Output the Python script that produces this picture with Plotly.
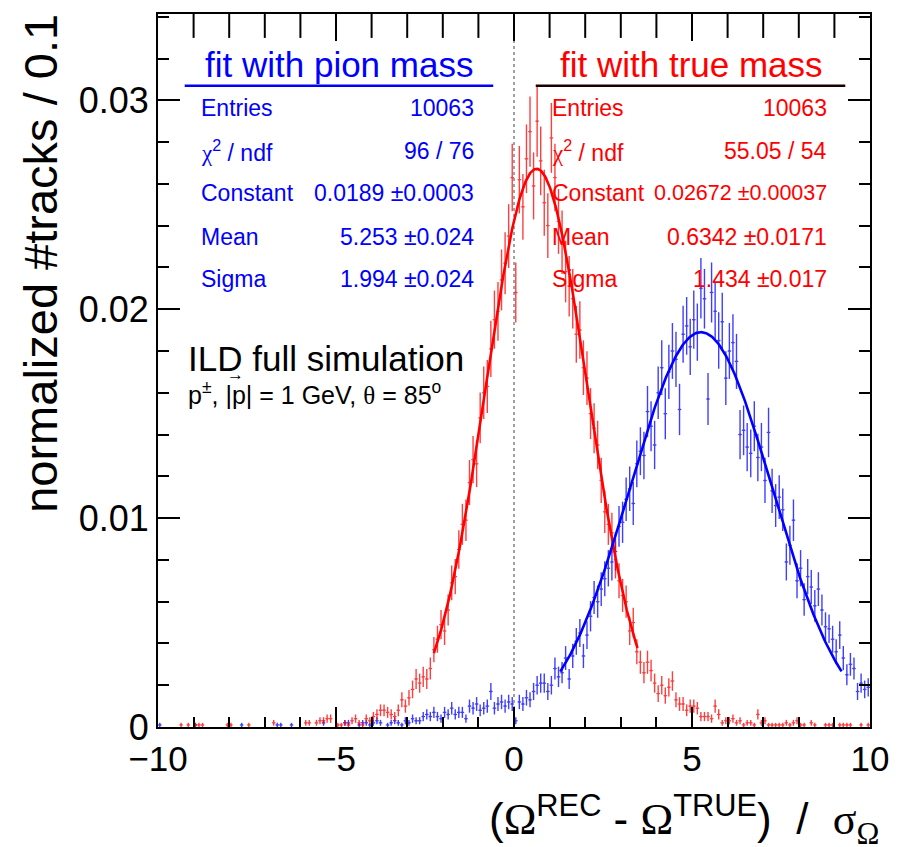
import numpy as np
import plotly.graph_objects as go

# ---------------- data ----------------
bin_width = 0.1
x_centers = [round(-9.95 + 0.1 * i, 2) for i in range(200)]

# "fit with true mass" (red) bin contents, -9.95 ... 9.95
red_values = [
    # -9.95 .. -9.05
    0, 0, 0, 0, 0, 0, 0.0001, 0, 0.0001, 0,
    # -8.95 .. -8.05
    0.0001, 0.0001, 0.0001, 0, 0, 0, 0, 0, 0, 0.0001,
    # -7.95 .. -7.05
    0.0001, 0, 0, 0, 0, 0.0001, 0, 0, 0, 0,
    # -6.95 .. -6.05
    0, 0, 0.0002, 0, 0, 0, 0, 0, 0, 0,
    # -5.95 .. -5.05
    0, 0.0002, 0.0002, 0, 0.0002, 0.0003, 0.0003, 0.0004, 0.0004, 0,
    # -4.95 .. -4.05
    0.0001, 0.0001, 0.0002, 0.0001, 0.0003, 0.0004, 0.0002, 0.0001, 0.0004, 0.0003,
    # -3.95 .. -3.05
    0.0005, 0.0006, 0.0008, 0.0008, 0.0007, 0.0006, 0.0005, 0.0008, 0.0013, 0.0010,
    # -2.95 .. -2.05
    0.0014, 0.0018, 0.0023, 0.0021, 0.0024, 0.0023, 0.0028, 0.0037, 0.0042, 0.0049,
    # -1.95 .. -1.05
    0.0046, 0.0056, 0.0069, 0.0072, 0.0085, 0.0097, 0.0099, 0.0117, 0.0128, 0.0126,
    # -0.95 .. -0.05
    0.0148, 0.0160, 0.0163, 0.0181, 0.0195, 0.0199, 0.0214, 0.0222, 0.0235, 0.0263,
    # 0.05 .. 0.95
    0.0208, 0.0262, 0.0249, 0.0272, 0.0285, 0.0259, 0.0290, 0.0271, 0.0251, 0.0240,
    # 1.05 .. 1.95
    0.0282, 0.0263, 0.0242, 0.0232, 0.0218, 0.0211, 0.0205, 0.0188, 0.0190, 0.0172,
    # 2.05 .. 2.95
    0.0167, 0.0150, 0.0143, 0.0135, 0.0118, 0.0103, 0.0097, 0.0093, 0.0080, 0.0070,
    # 3.05 .. 3.95
    0.0063, 0.0060, 0.0046, 0.0050, 0.0036, 0.0031, 0.0026, 0.0031, 0.0027, 0.0021,
    # 4.05 .. 4.95
    0.0016, 0.0020, 0.0015, 0.0019, 0.0022, 0.0013, 0.0011, 0.0011, 0.0008, 0.0010,
    # 5.05 .. 5.95
    0.0010, 0.0009, 0.0005, 0.0005, 0.0005, 0.0004, 0.0010, 0.0006, 0.0002, 0.0003,
    # 6.05 .. 6.95
    0.0003, 0.0004, 0.0002, 0.0003, 0.0001, 0.0002, 0.0002, 0.0001, 0.0006, 0.0002,
    # 7.05 .. 7.95
    0.0003, 0.0001, 0.0001, 0.0001, 0.0001, 0.0001, 0.0002, 0.0001, 0.0002, 0.0003,
    # 8.05 .. 8.95
    0.0001, 0.0001, 0, 0.0002, 0.0001, 0, 0, 0.0001, 0.0001, 0.0001,
    # 9.05 .. 9.95
    0, 0.0001, 0.0001, 0.0001, 0.0001, 0, 0, 0.0001, 0, 0.0001,
]

# "fit with pion mass" (blue) bin contents, -9.95 ... 9.95
blue_values = [
    # -9.95 .. -9.05
    0.0001, 0, 0, 0, 0, 0, 0, 0, 0, 0,
    # -8.95 .. -8.05
    0.0001, 0, 0, 0, 0, 0, 0, 0, 0, 0,
    # -7.95 .. -7.05
    0, 0, 0, 0.0001, 0, 0, 0, 0, 0, 0,
    # -6.95 .. -6.05
    0, 0, 0, 0.0001, 0.0001, 0, 0, 0.0001, 0, 0,
    # -5.95 .. -5.05
    0, 0, 0, 0, 0, 0, 0.0002, 0, 0, 0,
    # -4.95 .. -4.05
    0, 0, 0.0002, 0.0002, 0, 0, 0.0001, 0.0002, 0.0002, 0.0001,
    # -3.95 .. -3.05
    0.0002, 0.0003, 0.0002, 0, 0.0001, 0.0002, 0.0003, 0.0002, 0.0001, 0.0003,
    # -2.95 .. -2.05
    0.0002, 0.0004, 0.0003, 0.0003, 0.0005, 0.0006, 0.0005, 0.0007, 0.0005, 0.0004,
    # -1.95 .. -1.05
    0.0007, 0.0006, 0.0009, 0.0006, 0.0007, 0.0007, 0.0004, 0.0010, 0.0009, 0.0011,
    # -0.95 .. -0.05
    0.0008, 0.0009, 0.0010, 0.0017, 0.0009, 0.0011, 0.0012, 0.0010, 0.0012, 0.0011,
    # 0.05 .. 0.95
    0.0003, 0.0012, 0.0011, 0.0014, 0.0013, 0.0017, 0.0020, 0.0021, 0.0021, 0.0017,
    # 1.05 .. 1.95
    0.0020, 0.0028, 0.0024, 0.0026, 0.0033, 0.0023, 0.0034, 0.0041, 0.0045, 0.0034,
    # 2.05 .. 2.95
    0.0044, 0.0053, 0.0062, 0.0060, 0.0066, 0.0071, 0.0076, 0.0079, 0.0084, 0.0096,
    # 3.05 .. 3.95
    0.0098, 0.0109, 0.0114, 0.0107, 0.0126, 0.0132, 0.0130, 0.0151, 0.0144, 0.0135,
    # 4.05 .. 4.95
    0.0160, 0.0172, 0.0150, 0.0170, 0.0180, 0.0176, 0.0152, 0.0188, 0.0192, 0.0182,
    # 5.05 .. 5.95
    0.0195, 0.0189, 0.0210, 0.0205, 0.0157, 0.0208, 0.0199, 0.0185, 0.0194, 0.0167,
    # 6.05 .. 6.95
    0.0180, 0.0184, 0.0175, 0.0140, 0.0142, 0.0134, 0.0131, 0.0144, 0.0129, 0.0134,
    # 7.05 .. 7.95
    0.0118, 0.0141, 0.0113, 0.0106, 0.0110, 0.0104, 0.0079, 0.0087, 0.0099, 0.0070,
    # 8.05 .. 8.95
    0.0076, 0.0061, 0.0072, 0.0067, 0.0058, 0.0066, 0.0056, 0.0048, 0.0047, 0.0042,
    # 9.05 .. 9.95
    0.0036, 0.0044, 0.0033, 0.0025, 0.0030, 0.0028, 0.0017, 0.0021, 0.0018, 0.0019,
]

entries = 10063

# fit results shown in the stat boxes
red_fit = dict(constant=0.02672, mean=0.6342, sigma=1.434, xmin=-2.25, xmax=3.47)
blue_fit = dict(constant=0.0189, mean=5.253, sigma=1.994, xmin=1.3, xmax=9.2)

blue_stats = [("Entries", "10063"), ("χ<sup>2</sup> / ndf", "96 / 76"),
              ("Constant", "0.0189 ±0.0003"), ("Mean", "5.253 ±0.024"),
              ("Sigma", "1.994 ±0.024")]
red_stats = [("Entries", "10063"), ("χ<sup>2</sup> / ndf", "55.05 / 54"),
             ("Constant", "0.02672 ±0.00037"), ("Mean", "0.6342 ±0.0171"),
             ("Sigma", "1.434 ±0.017")]

x_tick_vals = [-10, -5, 0, 5, 10]
x_tick_text = ["\u221210", "\u22125", "0", "5", "10"]
x_minor_vals = list(range(-9, 10))
y_tick_vals = [0, 0.01, 0.02, 0.03]
y_tick_text = ["0", "0.01", "0.02", "0.03"]

# ---------------- layout geometry ----------------
W, H = 901, 847
L, R, T, B = 158, 23, 12, 120
X0, X1 = 158, 878
Y0, Y1 = 727, 12
Y_MAX = 0.03413
PX_PER_Y = (Y0 - Y1) / Y_MAX

def px(xp):
    return (xp - X0) / (X1 - X0)

def py(yp):
    return (Y0 - yp) / (Y0 - Y1)

FONT = "Liberation Sans, Arial, Helvetica, sans-serif"
SERIF = "Liberation Serif, Times New Roman, serif"
RED = "#ff0000"
BLUE = "#0000ff"

fig = go.Figure()

def add_hist(values, color, name):
    xs = [x for x, v in zip(x_centers, values) if v > 0]
    vs = [v for v in values if v > 0]
    errs = [float(np.sqrt(v / entries)) for v in vs]
    fig.add_trace(go.Scatter(
        x=xs, y=vs, mode="markers", name=name,
        marker=dict(color=color, size=2),
        error_y=dict(type="data", array=errs, visible=True, color=color,
                     thickness=1.4, width=0),
        error_x=dict(type="data", array=[bin_width / 2] * len(xs), visible=True,
                     color=color, thickness=1.2, width=0),
        opacity=0.75, showlegend=False, hoverinfo="skip"))

def add_fit(fit, color):
    xf = np.linspace(fit["xmin"], fit["xmax"], 300)
    yf = fit["constant"] * np.exp(-0.5 * ((xf - fit["mean"]) / fit["sigma"]) ** 2)
    fig.add_trace(go.Scatter(x=xf, y=yf, mode="lines",
                             line=dict(color=color, width=2.6),
                             showlegend=False, hoverinfo="skip"))

add_hist(blue_values, BLUE, "pion mass")
add_hist(red_values, RED, "true mass")
add_fit(red_fit, RED)
add_fit(blue_fit, BLUE)

# dotted line at zero
fig.add_shape(type="line", xref="x", yref="paper", x0=0, x1=0, y0=0, y1=1,
              line=dict(color="#444444", width=1, dash="dot"), layer="below")

# top-axis ticks (longer than the bottom ones, as in the original frame)
for v in x_minor_vals + [-5, 0, 5]:
    length_px = 27 if v in x_tick_vals else 24
    fig.add_shape(type="line", xref="x", yref="y", x0=v, x1=v,
                  y0=Y_MAX, y1=Y_MAX - length_px / PX_PER_Y,
                  line=dict(color="black", width=2))

annotations = []

def text(xp, yp, s, size, color, xanchor="left", yanchor="middle", family=FONT, **kw):
    annotations.append(dict(x=px(xp), y=py(yp), xref="paper", yref="paper",
                            text=s, showarrow=False, xanchor=xanchor,
                            yanchor=yanchor,
                            font=dict(family=family, size=size, color=color), **kw))

# stat box headers
text(341, 63, "fit with pion mass", 35, BLUE, xanchor="center")
text(697, 63, "fit with true mass", 35, RED, xanchor="center")
fig.add_shape(type="line", xref="paper", yref="paper", x0=px(185), x1=px(497),
              y0=py(84), y1=py(84), line=dict(color=BLUE, width=2.5))
fig.add_shape(type="line", xref="paper", yref="paper", x0=px(540), x1=px(853),
              y0=py(84), y1=py(84), line=dict(color="#1a0000", width=2.5))

CHI = "<span style='font-family:" + SERIF + "'>χ</span>"
row_y = [106, 149, 192, 236, 278]
for (lab, val), yy in zip(blue_stats, row_y):
    text(199, yy, lab.replace("χ", CHI), 23, BLUE, xanchor="left")
    text(480, yy, val, 23, BLUE, xanchor="right")
for (lab, val), yy in zip(red_stats, row_y):
    text(554, yy, lab.replace("χ", CHI), 23, RED, xanchor="left")
    text(837, yy, val, 21.5 if lab == "Constant" else 23, RED, xanchor="right")

# ILD label
text(186, 357, "ILD full simulation", 35, "black")
text(186, 392, "p<sup>±</sup>, |p| = 1 GeV, <span style='font-family:" + SERIF +
     "'>θ</span> = 85<sup>o</sup>", 25, "black")
text(236, 374, "\u2192", 17, "black", xanchor="center")

# axis titles
NB = "\u00a0"
annotations.append(dict(
    x=px(889), y=py(853), xref="paper", yref="paper", xanchor="right", yanchor="bottom",
    showarrow=False,
    text="(<span style='font-family:" + SERIF + "'>Ω</span>"
         "<sup>REC</sup>" + NB + "-" + NB +
         "<span style='font-family:" + SERIF + "'>Ω</span>"
         "<sup>TRUE</sup>)" + NB + NB + "/" + NB + NB +
         "<span style='font-family:" + SERIF + "'>σ</span>"
         "<sub><span style='font-family:" + SERIF + "'>Ω</span></sub>",
    font=dict(family=FONT, size=44, color="black")))
annotations.append(dict(
    x=-(158 - 39) / 720, y=py(10), xref="paper", yref="paper",
    xanchor="center", yanchor="top", textangle=-90, showarrow=False,
    text="normalized #tracks / 0.1",
    font=dict(family=FONT, size=47, color="black")))

fig.update_layout(
    width=W, height=H,
    margin=dict(l=L, r=R, t=T, b=B, pad=0),
    paper_bgcolor="white", plot_bgcolor="white",
    annotations=annotations,
    xaxis=dict(range=[-10, 10], tickvals=x_tick_vals, ticktext=x_tick_text,
               ticks="inside", ticklen=20, tickwidth=2, tickcolor="black",
               showline=True, linewidth=2, linecolor="black", mirror=True,
               showgrid=False, zeroline=False,
               tickfont=dict(family=FONT, size=35, color="black"),
               minor=dict(tickvals=x_minor_vals, ticks="inside", ticklen=10, tickwidth=2,
                          tickcolor="black", showgrid=False)),
    yaxis=dict(range=[0, Y_MAX], tickvals=y_tick_vals, ticktext=y_tick_text,
               ticks="inside", ticklen=22, tickwidth=2, tickcolor="black",
               showline=True, linewidth=2, linecolor="black", mirror="ticks",
               showgrid=False, zeroline=False,
               tickfont=dict(family=FONT, size=36, color="black"),
               minor=dict(dtick=0.002, ticks="inside", ticklen=11, tickwidth=2,
                          tickcolor="black", showgrid=False)),
)

fig.write_html("out.html")
